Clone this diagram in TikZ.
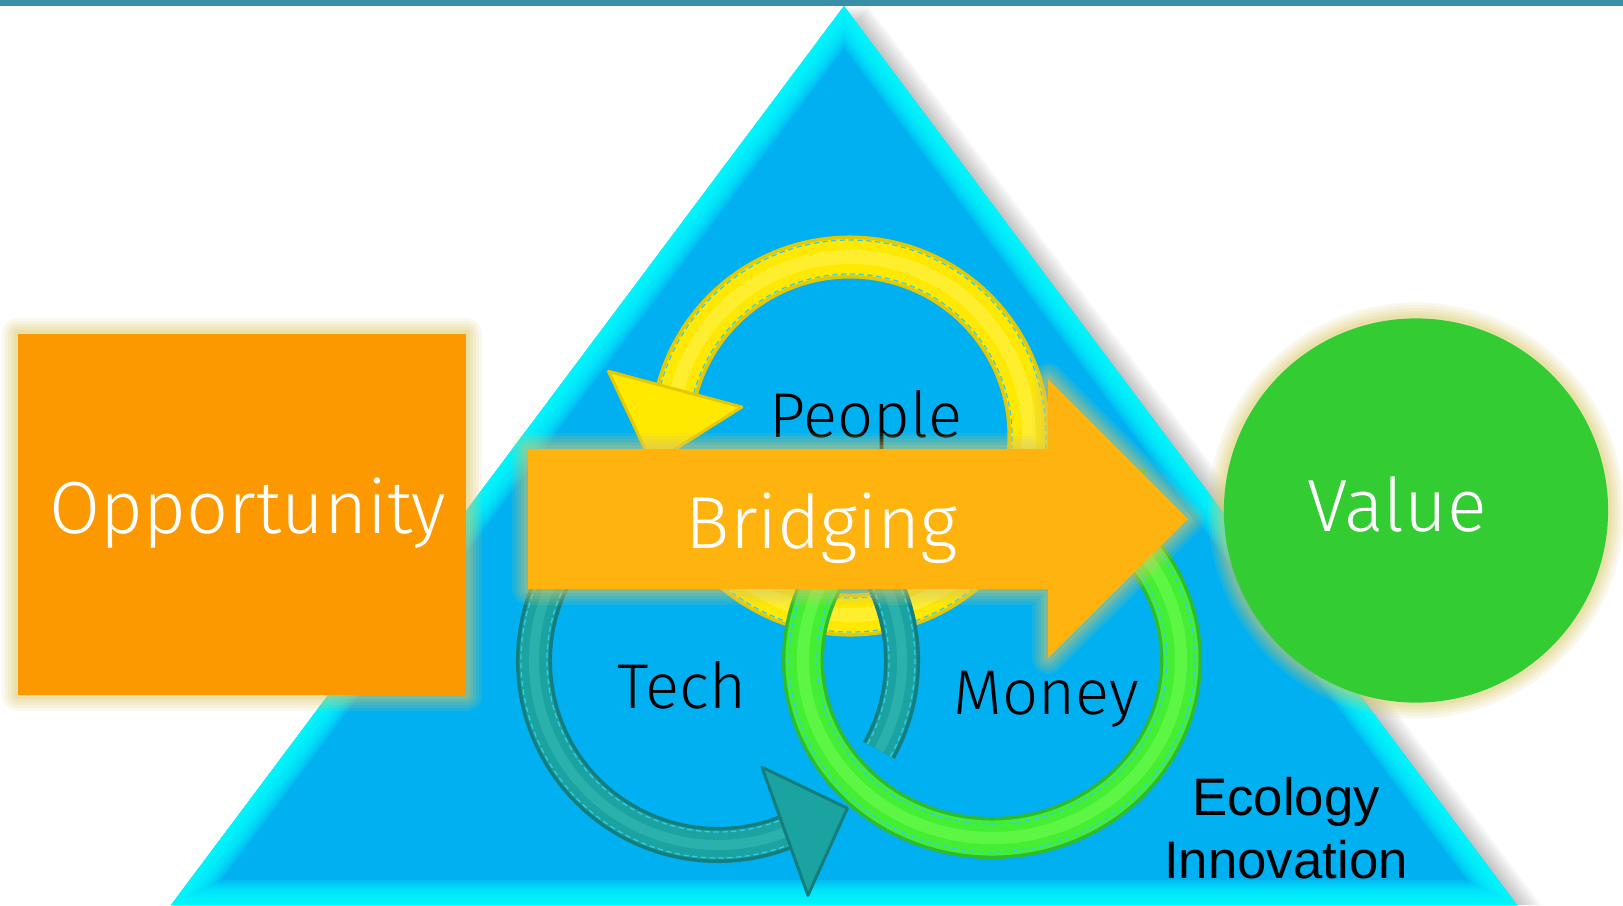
\documentclass[tikz,border=0pt]{standalone}
\usepackage{fontspec}
\usepackage{tikz}
\usetikzlibrary{positioning}

\newfontfamily\lightfont{Fira Sans Light}
\newfontfamily\arialfont{Liberation Sans}

\definecolor{barteal}{HTML}{3A8FA8}
\definecolor{triblue}{HTML}{00B0F0}
\definecolor{triedge}{HTML}{00FFFF}
\definecolor{oppor}{HTML}{FC9900}
\definecolor{bridge}{HTML}{FFB30F}
\definecolor{valgreen}{HTML}{33CC33}
\definecolor{glowtan}{HTML}{D8C868}
\definecolor{ringyellow}{HTML}{FFE900}
\definecolor{ringyellowdk}{HTML}{E6C800}
\definecolor{ringyellowlt}{HTML}{FFF566}
\definecolor{ringteal}{HTML}{1AA3A0}
\definecolor{ringtealdk}{HTML}{147D7E}
\definecolor{ringteallt}{HTML}{3CC0BA}
\definecolor{ringgreen}{HTML}{44EE33}
\definecolor{ringgreendk}{HTML}{2EBB2E}
\definecolor{ringgreenlt}{HTML}{77FF55}
\definecolor{stitch}{HTML}{33CCEE}

\begin{document}
\begin{tikzpicture}[x=0.01cm, y=-0.01cm, line join=round,
   every node/.style={inner sep=0pt, outer sep=0pt},
   glowing/.style={preaction={draw=glowtan, line width=0.32cm, opacity=0.12},
                   preaction={draw=glowtan, line width=0.26cm, opacity=0.12},
                   preaction={draw=glowtan, line width=0.20cm, opacity=0.14},
                   preaction={draw=glowtan, line width=0.14cm, opacity=0.16},
                   preaction={draw=glowtan, line width=0.08cm, opacity=0.2}},
   bigword/.style={text=white, font=\lightfont\fontsize{21}{25}\selectfont},
   ringword/.style={text=black, font=\lightfont\fontsize{18}{22}\selectfont},
   ecoword/.style={text=black, font=\arialfont\fontsize{15}{18}\selectfont},
   stitches/.style={draw=stitch, line width=0.35pt, dash pattern=on 1.5pt off 1pt},
   headline/.style={line width=0.03cm}]
   \useasboundingbox (0,0) rectangle (1623,905);

   % pyramid
   \coordinate (apex) at (844,6);
   \coordinate (bl) at (171,905);
   \coordinate (br) at (1517,905);
   \foreach \s in {3,6,...,24}
      \fill[black, opacity=0.03] ([xshift=\s*0.01cm]apex) -- ([xshift=\s*0.01cm]br) -- ([xshift=\s*0.01cm]bl) -- cycle;
   \fill[triblue] (apex) -- (br) -- (bl) -- cycle;
   \begin{scope}
      \clip (apex) -- (br) -- (bl) -- cycle;
      \foreach \i in {1,...,10}
         \draw[triedge, line width=\i*0.05cm, opacity=0.2] (apex) -- (br) -- (bl) -- cycle;
   \end{scope}
   \fill[barteal] (0,0) rectangle (1623,6);

   % side blocks
   \node[glowing, fill=oppor, minimum width=4.48cm, minimum height=3.61cm] (oppbox) at (242,514.5) {};
   \node[glowing, circle, fill=valgreen, minimum size=3.84cm] (valcirc) at (1416,510.5) {};

   % people loop
   \begin{scope}[shift={(850,436)}]
      \foreach \c/\w/\o in {ringyellowdk/0.43/1, ringyellow/0.36/1, ringyellowlt/0.14/0.45}
         \draw[\c, line width=\w cm, opacity=\o] (-215:179) arc[start angle=-215, end angle=-527, radius=179];
      \foreach \r in {162,196}
         \draw[stitches] (-215:\r) arc[start angle=-215, end angle=-527, radius=\r];
      \filldraw[fill=ringyellow, draw=ringyellowdk, headline] (-165:112) -- (-188:200) -- (-165:250) -- cycle;
   \end{scope}

   % money loop
   \begin{scope}[shift={(992,660)}]
      \foreach \c/\w/\o in {ringgreendk/0.42/1, ringgreen/0.35/1, ringgreenlt/0.12/0.5}
         \draw[\c, line width=\w cm, opacity=\o] (-120:189 and 178) arc[start angle=-120, end angle=-415, x radius=189, y radius=178];
      \foreach \a/\b in {175/164, 203/192}
         \draw[stitches] (-120:{\a} and {\b}) arc[start angle=-120, end angle=-415, x radius=\a, y radius=\b];
      \filldraw[fill=ringgreen, draw=ringgreendk, headline] (153,-190) -- (52,-187) -- (79,-90) -- cycle;
   \end{scope}

   % tech loop
   \begin{scope}[shift={(718,661)}]
      \foreach \c/\w/\o in {ringtealdk/0.36/1, ringteal/0.29/1, ringteallt/0.1/0.5}
         \draw[\c, line width=\w cm, opacity=\o] (29:184) arc[start angle=29, end angle=-294, radius=184];
      \foreach \r in {171,197}
         \draw[stitches] (29:\r) arc[start angle=29, end angle=-294, radius=\r];
      \filldraw[fill=ringteal, draw=ringtealdk, headline] (67.5:115) -- (48.7:196) -- (69:251) -- cycle;
   \end{scope}

   \node[ringword, anchor=base] (people) at (866,437) {People};
   \node[ringword, anchor=base] (tech) at (682,708) {Tech};
   \node[ringword, anchor=base] (money) at (1046,714) {Money};

   % bridging arrow
   \fill[glowing, bridge] (528,449) -- (1048,449) -- (1048,379) -- (1188,519)
      -- (1048,658) -- (1048,589) -- (528,589) -- cycle;
   \node[bigword, anchor=base] (bridging) at (822,548) {Bridging};

   \node[bigword, anchor=base] (opp) at (248,533) {Opportunity};
   \node[bigword, anchor=base] (value) at (1397,531) {Value};

   \node[ecoword, anchor=base] (ecology) at (1286,815) {Ecology};
   \node[ecoword, below=0.63cm of ecology.base, anchor=base] (innovation) {Innovation};
\end{tikzpicture}
\end{document}
